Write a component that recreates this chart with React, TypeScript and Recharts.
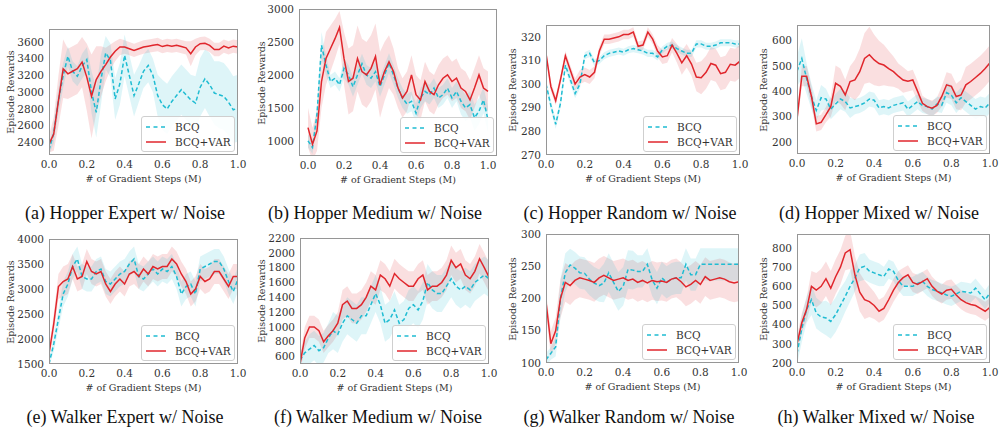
import { ComposedChart, Area, Line, XAxis, YAxis } from "recharts";

// sample positions along the x axis (millions of gradient steps)
const steps = [
  0, 0.025, 0.05, 0.075, 0.1, 0.125, 0.15, 0.175, 0.2, 0.225, 0.25, 0.275, 0.3, 0.325,
  0.35, 0.375, 0.4, 0.425, 0.45, 0.475, 0.5, 0.525, 0.55, 0.575, 0.6, 0.625, 0.65,
  0.675, 0.7, 0.725, 0.75, 0.775, 0.8, 0.825, 0.85, 0.875, 0.9, 0.925, 0.95, 0.975, 1,
];
const xTicks = [0, 0.2, 0.4, 0.6, 0.8, 1];

// (a) Hopper Expert
const hopperExpertBcq = [2310, 2510, 2900, 3200, 3430, 3250, 3190, 3310, 3390, 3000, 2760, 3150, 3470, 3380, 2920, 3100, 3440, 3200, 2960, 3100, 3250, 3320, 3200, 2960, 2850, 2800, 2890, 2960, 3030, 2970, 2910, 2870, 3060, 3160, 3090, 2990, 2970, 2950, 2880, 2790, 2810];
const hopperExpertBcqStd = [60, 120, 150, 150, 120, 120, 120, 150, 150, 250, 300, 300, 200, 200, 250, 250, 250, 250, 250, 220, 200, 200, 200, 250, 300, 300, 300, 300, 300, 300, 300, 320, 350, 350, 380, 380, 400, 400, 400, 400, 400];
const hopperExpertVar = [2380, 2500, 2900, 3280, 3220, 3250, 3280, 3360, 3180, 2950, 3150, 3250, 3330, 3420, 3490, 3540, 3540, 3520, 3500, 3520, 3540, 3550, 3560, 3570, 3545, 3560, 3550, 3560, 3545, 3530, 3460, 3540, 3580, 3585, 3560, 3510, 3510, 3550, 3530, 3550, 3540];
const hopperExpertVarStd = [100, 200, 300, 350, 300, 300, 300, 300, 400, 500, 400, 300, 200, 150, 120, 100, 80, 80, 80, 80, 80, 80, 80, 80, 80, 80, 80, 80, 80, 80, 150, 100, 80, 80, 80, 80, 80, 80, 80, 80, 80];
const hopperExpertTicks = [2400, 2600, 2800, 3000, 3200, 3400, 3600];

// (b) Hopper Medium
const hopperMediumBcq = [1000, 900, 1400, 2450, 2150, 1900, 1950, 1850, 2100, 2000, 1820, 2000, 2170, 2000, 1950, 2050, 1820, 2000, 2180, 2000, 1800, 1650, 1560, 1600, 1420, 1650, 1750, 1700, 1800, 1650, 1700, 1800, 1650, 1750, 1600, 1500, 1550, 1350, 1450, 1620, 1320];
const hopperMediumBcqStd = [100, 100, 150, 200, 150, 100, 100, 100, 150, 150, 150, 150, 150, 150, 150, 150, 150, 150, 150, 150, 150, 150, 150, 150, 150, 150, 150, 150, 150, 150, 150, 150, 150, 150, 200, 200, 200, 200, 200, 200, 200];
const hopperMediumVar = [1200, 950, 1150, 1900, 2250, 2400, 2550, 2720, 2250, 1900, 1950, 2250, 2050, 2000, 2100, 2280, 1850, 2050, 2200, 2050, 1800, 1650, 1750, 2000, 1700, 1620, 1900, 1750, 1700, 1850, 1950, 2000, 1900, 1950, 1800, 1750, 1620, 1800, 2000, 1800, 1750];
const hopperMediumVarStd = [300, 250, 300, 400, 400, 350, 300, 250, 400, 500, 500, 500, 500, 500, 500, 500, 500, 450, 400, 350, 300, 300, 300, 300, 300, 300, 300, 300, 300, 300, 300, 300, 300, 300, 300, 300, 300, 300, 300, 300, 300];
const hopperMediumTicks = [1000, 1500, 2000, 2500, 3000];

// (c) Hopper Random
const hopperRandomBcq = [300, 291, 283, 292, 308, 302, 296, 300, 312, 313, 309, 310, 312, 313, 313.5, 314, 313.5, 314.5, 315, 314.5, 314, 313, 313, 311.5, 314.5, 316, 316.5, 315, 314, 313, 313, 317, 317, 316, 316, 316.5, 317.5, 317.5, 317.5, 317, 317];
const hopperRandomBcqStd = [2, 2, 2, 2, 2, 2, 2, 2, 1.5, 1.5, 1.5, 1.5, 1.5, 1.5, 1.5, 1.5, 1.5, 1.5, 1.5, 1.5, 1.5, 1.5, 1.5, 1.5, 1.5, 1.5, 1.5, 1.5, 1.5, 1.5, 1.5, 1.5, 1.5, 1.5, 1.5, 1.5, 1.5, 1.5, 1.5, 1.5, 1.5];
const hopperRandomVar = [313, 299, 293, 302, 312, 306, 300, 303, 304, 303, 305, 314, 319, 319, 319.5, 320, 321, 321, 322, 316, 316.5, 322, 319, 314, 311.5, 312, 316.5, 313, 309, 312, 308.5, 303, 302.7, 305, 308.7, 308, 304.4, 305, 308.4, 308, 309.7];
const hopperRandomVarStd = [2, 2, 2, 2, 2, 2, 2.5, 3, 3, 3, 2.5, 2, 2, 2, 2, 2, 2, 2, 2, 2, 2, 2, 2, 2.5, 3, 3, 3, 4, 5, 5, 5, 6, 7, 7, 7, 7, 7, 7, 7, 7, 7];
const hopperRandomTicks = [270, 280, 290, 300, 310, 320];

// (d) Hopper Mixed
const hopperMixedBcq = [480, 530, 450, 380, 325, 375, 370, 330, 350, 370, 360, 335, 340, 345, 355, 370, 365, 335, 340, 335, 345, 350, 355, 330, 345, 360, 345, 340, 330, 350, 345, 395, 385, 355, 375, 360, 345, 330, 340, 335, 355];
const hopperMixedBcqStd = [60, 80, 60, 50, 40, 50, 40, 40, 40, 40, 40, 40, 30, 30, 30, 30, 30, 30, 30, 30, 30, 30, 30, 30, 30, 30, 30, 30, 30, 30, 30, 40, 40, 40, 40, 40, 40, 40, 40, 40, 40];
const hopperMixedVar = [290, 460, 460, 380, 272, 278, 308, 340, 432, 420, 386, 439, 445, 478, 530, 545, 524, 510, 504, 490, 478, 460, 445, 440, 445, 400, 353, 340, 334, 345, 380, 426, 420, 380, 386, 426, 439, 455, 471, 490, 513];
const hopperMixedVarStd = [30, 40, 40, 40, 30, 30, 30, 40, 70, 70, 60, 60, 80, 90, 100, 110, 100, 90, 80, 70, 60, 50, 50, 40, 40, 40, 30, 30, 30, 30, 40, 50, 50, 50, 60, 70, 70, 70, 70, 70, 70];
const hopperMixedTicks = [200, 300, 400, 500, 600];

// (e) Walker Expert
const walkerExpertBcq = [1500, 1900, 2400, 2900, 3100, 3450, 3600, 3250, 3200, 3200, 3350, 3400, 3150, 3100, 3200, 3300, 3350, 3500, 3600, 3250, 3200, 3300, 3400, 3300, 3400, 3350, 3450, 3250, 2900, 3050, 3100, 2900, 3400, 3450, 3500, 3550, 3550, 3400, 3150, 2950, 3200];
const walkerExpertBcqStd = [50, 150, 200, 250, 250, 250, 250, 250, 250, 250, 250, 250, 250, 250, 250, 250, 250, 250, 250, 250, 250, 250, 250, 250, 250, 250, 250, 250, 250, 250, 250, 250, 250, 250, 250, 250, 250, 250, 250, 250, 250];
const walkerExpertVar = [1700, 2300, 3050, 3150, 3200, 3450, 3200, 3250, 3550, 3350, 3300, 3350, 3100, 2950, 3100, 3200, 3100, 3300, 3350, 3250, 3400, 3300, 3450, 3400, 3450, 3450, 3600, 3500, 3300, 3150, 2900, 3000, 3250, 3150, 3200, 3350, 3350, 3200, 3050, 3250, 3250];
const walkerExpertVarStd = [100, 200, 250, 300, 300, 250, 250, 250, 250, 250, 250, 250, 250, 250, 250, 250, 250, 250, 250, 250, 250, 250, 250, 250, 250, 250, 250, 250, 250, 250, 250, 250, 250, 250, 250, 250, 250, 250, 250, 250, 250];
const walkerExpertTicks = [1500, 2000, 2500, 3000, 3500, 4000];

// (f) Walker Medium
const walkerMediumBcq = [550, 650, 700, 750, 680, 720, 850, 950, 900, 1050, 1150, 1100, 1050, 1150, 1150, 1300, 1450, 1300, 1050, 1100, 1230, 1050, 1100, 1250, 1300, 1230, 1350, 1600, 1500, 1450, 1450, 1550, 1650, 1550, 1500, 1550, 1500, 1600, 1650, 1700, 1650];
const walkerMediumBcqStd = [100, 150, 200, 200, 200, 200, 200, 250, 250, 250, 250, 250, 250, 250, 250, 250, 250, 250, 250, 250, 250, 250, 250, 250, 250, 250, 250, 250, 250, 250, 250, 250, 250, 250, 250, 250, 250, 250, 250, 250, 250];
const walkerMediumVar = [500, 850, 1000, 1000, 950, 800, 880, 950, 1050, 1300, 1350, 1250, 1250, 1300, 1400, 1550, 1500, 1700, 1650, 1550, 1720, 1650, 1600, 1550, 1550, 1650, 1700, 1500, 1550, 1550, 1600, 1700, 1900, 1800, 1850, 1700, 1650, 1750, 1920, 1800, 1670];
const walkerMediumVarStd = [100, 150, 150, 150, 150, 150, 150, 150, 150, 200, 200, 200, 200, 200, 200, 200, 200, 200, 200, 200, 200, 200, 200, 200, 200, 200, 200, 200, 200, 200, 200, 200, 200, 200, 200, 200, 200, 200, 200, 200, 200];
const walkerMediumTicks = [600, 800, 1000, 1200, 1400, 1600, 1800, 2000, 2200];

// (g) Walker Random
const walkerRandomBcq = [105, 115, 125, 200, 240, 252, 247, 240, 239, 230, 224, 220, 224, 240, 225, 211, 219, 245, 244, 242, 242, 253, 229, 216, 232, 225, 230, 232, 232, 253, 237, 237, 253, 253, 253, 253, 253, 253, 253, 253, 253];
const walkerRandomBcqStd = [10, 10, 15, 30, 30, 25, 25, 25, 25, 25, 25, 25, 30, 30, 30, 30, 30, 30, 30, 25, 25, 25, 25, 25, 25, 25, 25, 25, 25, 25, 25, 25, 25, 25, 25, 25, 25, 25, 25, 25, 25];
const walkerRandomVar = [195, 130, 150, 200, 225, 220, 228, 232, 230, 228, 225, 232, 236, 232, 228, 230, 232, 228, 230, 225, 228, 224, 228, 226, 227, 225, 230, 232, 226, 218, 222, 228, 222, 234, 228, 230, 232, 230, 226, 224, 226];
const walkerRandomVarStd = [15, 20, 20, 30, 30, 30, 30, 30, 30, 30, 30, 30, 30, 30, 30, 30, 30, 30, 30, 30, 30, 30, 30, 30, 30, 30, 30, 30, 30, 30, 30, 30, 30, 30, 30, 30, 30, 30, 30, 30, 30];
const walkerRandomTicks = [100, 150, 200, 250, 300];

// (h) Walker Mixed
const walkerMixedBcq = [250, 380, 480, 530, 460, 440, 435, 417, 452, 500, 548, 600, 643, 696, 704, 680, 670, 660, 652, 690, 678, 630, 600, 600, 600, 615, 626, 600, 583, 575, 565, 555, 548, 560, 574, 570, 565, 591, 560, 530, 565];
const walkerMixedBcqStd = [60, 70, 70, 80, 80, 80, 90, 90, 90, 90, 80, 80, 70, 70, 70, 60, 60, 60, 50, 50, 50, 50, 50, 50, 50, 50, 50, 50, 50, 50, 50, 50, 50, 50, 50, 50, 50, 50, 50, 50, 50];
const walkerMixedVar = [300, 410, 480, 600, 580, 600, 640, 590, 650, 700, 774, 791, 660, 570, 530, 520, 500, 470, 485, 530, 580, 620, 645, 660, 620, 610, 625, 640, 600, 575, 560, 580, 585, 555, 530, 515, 505, 500, 485, 470, 490];
const walkerMixedVarStd = [40, 50, 60, 80, 90, 90, 90, 90, 90, 90, 90, 100, 100, 100, 100, 80, 70, 60, 60, 60, 60, 60, 50, 50, 50, 50, 50, 50, 50, 50, 50, 50, 50, 50, 50, 50, 50, 50, 50, 50, 50];
const walkerMixedTicks = [200, 300, 400, 500, 600, 700, 800];

const BCQ_COLOR = "#1fbcd2";
const VAR_COLOR = "#e0262c";
const TEXT = "#333";
const TICK_FONT = "DejaVu Serif";

const YW = 40;
const XH = 22;
const PAD_TOP = 8;
const PAD_RIGHT = 12;

type Panel = {
  caption: string;
  bcq: number[];
  bcqStd: number[];
  varMean: number[];
  varStd: number[];
  yTicks: number[];
  yDomain: [number, number];
  xDomain: [number, number];
  box: { left: number; top: number; width: number; height: number };
  labelX: number;
  captionX: number;
  captionY: number;
};

const panels: Panel[] = [
  { caption: "(a) Hopper Expert w/ Noise", bcq: hopperExpertBcq, bcqStd: hopperExpertBcqStd, varMean: hopperExpertVar, varStd: hopperExpertVarStd, yTicks: hopperExpertTicks, yDomain: [2250, 3755], xDomain: [0, 1], box: { left: 49, top: 29, width: 189, height: 126 }, labelX: 10, captionX: 125, captionY: 213 },
  { caption: "(b) Hopper Medium w/ Noise", bcq: hopperMediumBcq, bcqStd: hopperMediumBcqStd, varMean: hopperMediumVar, varStd: hopperMediumVarStd, yTicks: hopperMediumTicks, yDomain: [770, 3000], xDomain: [-0.05, 1.05], box: { left: 299, top: 9, width: 198, height: 147 }, labelX: 261, captionX: 375, captionY: 213 },
  { caption: "(c) Hopper Random w/ Noise", bcq: hopperRandomBcq, bcqStd: hopperRandomBcqStd, varMean: hopperRandomVar, varStd: hopperRandomVarStd, yTicks: hopperRandomTicks, yDomain: [270, 325], xDomain: [0, 1], box: { left: 546, top: 25, width: 194, height: 130 }, labelX: 512, captionX: 630, captionY: 213 },
  { caption: "(d) Hopper Mixed w/ Noise", bcq: hopperMixedBcq, bcqStd: hopperMixedBcqStd, varMean: hopperMixedVar, varStd: hopperMixedVarStd, yTicks: hopperMixedTicks, yDomain: [153, 662], xDomain: [0, 1], box: { left: 797, top: 25, width: 193, height: 129 }, labelX: 763, captionX: 879, captionY: 213 },
  { caption: "(e) Walker Expert w/ Noise", bcq: walkerExpertBcq, bcqStd: walkerExpertBcqStd, varMean: walkerExpertVar, varStd: walkerExpertVarStd, yTicks: walkerExpertTicks, yDomain: [1500, 4000], xDomain: [0, 1], box: { left: 49, top: 239, width: 189, height: 125 }, labelX: 10, captionX: 125, captionY: 417 },
  { caption: "(f) Walker Medium w/ Noise", bcq: walkerMediumBcq, bcqStd: walkerMediumBcqStd, varMean: walkerMediumVar, varStd: walkerMediumVarStd, yTicks: walkerMediumTicks, yDomain: [500, 2200], xDomain: [0, 1], box: { left: 300, top: 238, width: 189, height: 126 }, labelX: 261, captionX: 378, captionY: 417 },
  { caption: "(g) Walker Random w/ Noise", bcq: walkerRandomBcq, bcqStd: walkerRandomBcqStd, varMean: walkerRandomVar, varStd: walkerRandomVarStd, yTicks: walkerRandomTicks, yDomain: [100, 300], xDomain: [0, 1], box: { left: 546, top: 234, width: 193, height: 129 }, labelX: 512, captionX: 629, captionY: 417 },
  { caption: "(h) Walker Mixed w/ Noise", bcq: walkerMixedBcq, bcqStd: walkerMixedBcqStd, varMean: walkerMixedVar, varStd: walkerMixedVarStd, yTicks: walkerMixedTicks, yDomain: [200, 873], xDomain: [0, 1], box: { left: 797, top: 234, width: 193, height: 129 }, labelX: 763, captionX: 876, captionY: 417 },
];

const buildRows = (p: Panel) =>
  steps.map((x, i) => ({
    x,
    bcq: p.bcq[i],
    var: p.varMean[i],
    bcqBand: [p.bcq[i] - p.bcqStd[i], p.bcq[i] + p.bcqStd[i]],
    varBand: [p.varMean[i] - p.varStd[i], p.varMean[i] + p.varStd[i]],
  }));

const Legend = ({ box }: { box: Panel["box"] }) => (
  <div
    style={{
      position: "absolute",
      left: box.left + box.width - 97,
      top: box.top + box.height - 39,
      width: 94,
      height: 36,
      boxSizing: "border-box",
      border: "1px solid #cfcfcf",
      borderRadius: 3,
      background: "rgba(255,255,255,0.85)",
      fontFamily: TICK_FONT,
      fontSize: 10.5,
      color: TEXT,
    }}
  >
    {[
      { name: "BCQ", color: BCQ_COLOR, dash: "4 3.5" },
      { name: "BCQ+VAR", color: VAR_COLOR, dash: undefined },
    ].map((item, k) => (
      <div key={item.name} style={{ position: "absolute", left: 0, top: 3 + k * 15, height: 14, width: "100%" }}>
        <svg width={24} height={14} style={{ position: "absolute", left: 4, top: 0 }}>
          <line x1={0} x2={20} y1={7} y2={7} stroke={item.color} strokeWidth={1.5} strokeDasharray={item.dash} />
        </svg>
        <span style={{ position: "absolute", left: 33, top: 0, lineHeight: "14px", whiteSpace: "nowrap" }}>{item.name}</span>
      </div>
    ))}
  </div>
);

const Subplot = ({ p }: { p: Panel }) => {
  const rows = buildRows(p);
  const { box } = p;
  return (
    <>
      <div style={{ position: "absolute", left: box.left - YW, top: box.top - PAD_TOP }}>
        <ComposedChart
          width={box.width + YW + PAD_RIGHT}
          height={box.height + XH + PAD_TOP}
          data={rows}
          margin={{ top: PAD_TOP, right: PAD_RIGHT, bottom: 0, left: 0 }}
        >
          <XAxis
            dataKey="x"
            type="number"
            domain={p.xDomain}
            ticks={xTicks}
            interval={0}
            allowDataOverflow
            height={XH}
            axisLine={false}
            tickLine={false}
            tickSize={0}
            tickMargin={6}
            tickFormatter={(v: number) => v.toFixed(1)}
            tick={{ fill: TEXT, fontSize: 10.5, fontFamily: TICK_FONT }}
          />
          <YAxis
            type="number"
            domain={p.yDomain}
            ticks={p.yTicks}
            interval={0}
            allowDataOverflow
            width={YW}
            axisLine={false}
            tickLine={false}
            tickSize={0}
            tickMargin={5}
            tick={{ fill: TEXT, fontSize: 10.5, fontFamily: TICK_FONT }}
          />
          <Area dataKey="varBand" type="linear" stroke="none" fill={VAR_COLOR} fillOpacity={0.15} isAnimationActive={false} activeDot={false} />
          <Area dataKey="bcqBand" type="linear" stroke="none" fill={BCQ_COLOR} fillOpacity={0.15} isAnimationActive={false} activeDot={false} />
          <Line dataKey="bcq" type="linear" stroke={BCQ_COLOR} strokeWidth={1.5} strokeDasharray="4 2.5" dot={false} activeDot={false} isAnimationActive={false} />
          <Line dataKey="var" type="linear" stroke={VAR_COLOR} strokeWidth={1.5} dot={false} activeDot={false} isAnimationActive={false} />
        </ComposedChart>
      </div>
      {/* plot frame */}
      <div
        style={{
          position: "absolute",
          left: box.left,
          top: box.top,
          width: box.width,
          height: box.height,
          boxSizing: "border-box",
          border: "1px solid #969696",
          pointerEvents: "none",
        }}
      />
      <div
        style={{
          position: "absolute",
          left: p.labelX,
          top: box.top + box.height / 2,
          transform: "translate(-50%, -50%) rotate(-90deg)",
          fontFamily: TICK_FONT,
          fontSize: 9.5,
          color: TEXT,
          whiteSpace: "nowrap",
        }}
      >
        Episode Rewards
      </div>
      <div
        style={{
          position: "absolute",
          left: box.left + box.width / 2,
          top: box.top + box.height + 23,
          transform: "translate(-50%, -50%)",
          fontFamily: TICK_FONT,
          fontSize: 9.5,
          color: TEXT,
          whiteSpace: "nowrap",
        }}
      >
        # of Gradient Steps (M)
      </div>
      <Legend box={box} />
      <div
        style={{
          position: "absolute",
          left: p.captionX,
          top: p.captionY,
          transform: "translate(-50%, -50%)",
          fontFamily: "Liberation Serif",
          fontSize: 18,
          color: "#111",
          whiteSpace: "nowrap",
        }}
      >
        {p.caption}
      </div>
    </>
  );
};

export default function App() {
  return (
    <div style={{ position: "absolute", left: 0, top: 0, width: 1000, height: 429, background: "#fff", overflow: "hidden" }}>
      {panels.map((p) => (
        <Subplot key={p.caption} p={p} />
      ))}
    </div>
  );
}
